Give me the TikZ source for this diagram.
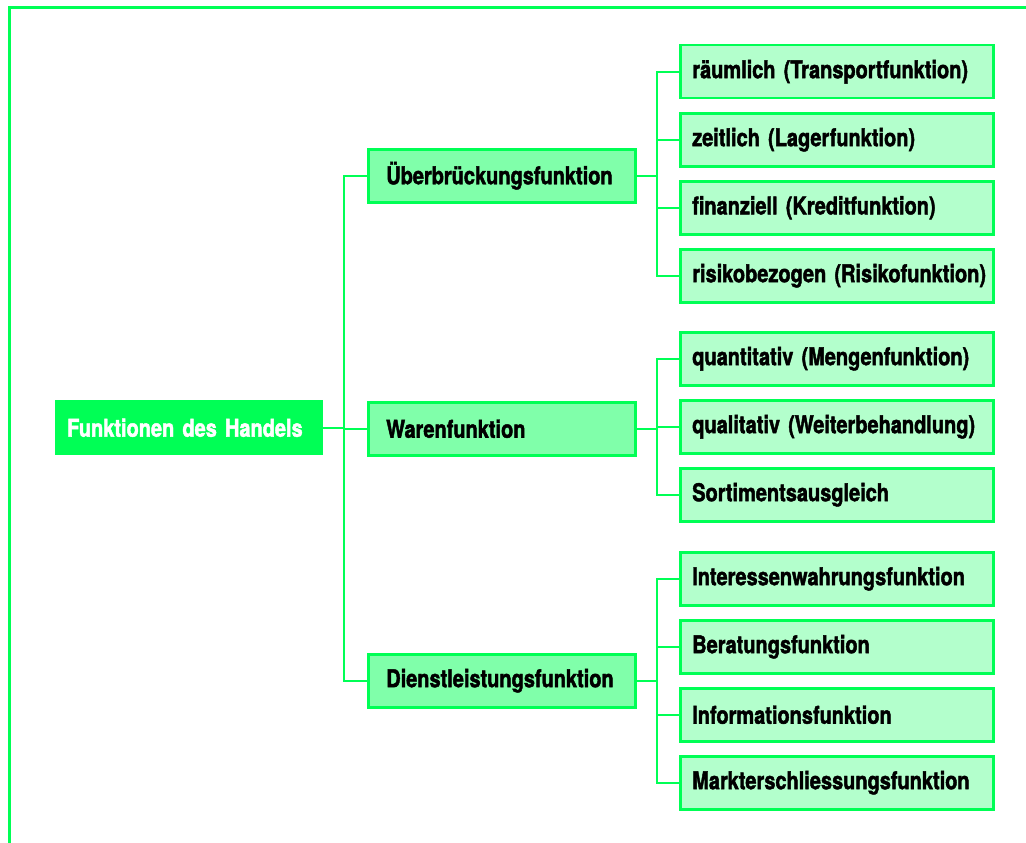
\documentclass[tikz,border=0pt]{standalone}
\usepackage{fontspec}
\newfontfamily\boxfont{TeX Gyre Heros}[FakeStretch=0.815, BoldFeatures={FakeBold=1.8}]
\definecolor{linegreen}{HTML}{00FF55}
\definecolor{midgreen}{HTML}{80FFAA}
\definecolor{lightgreen}{HTML}{B3FFCC}
\tikzset{
  conn/.style={draw=linegreen, line width=2pt},
  boxtext/.style={font=\boxfont\bfseries\fontsize{24.5}{28}\selectfont,
    execute at begin node=\hbox\bgroup, execute at end node=\egroup},
  rootbox/.style={rectangle, fill=linegreen, anchor=north west,
    minimum width=268pt, minimum height=55pt, text width=244pt,
    inner xsep=12pt, align=left, text=white, boxtext},
  midbox/.style={rectangle, draw=linegreen, line width=2.5pt, fill=midgreen,
    anchor=north west, minimum width=267pt, minimum height=53pt,
    text width=231pt, inner xsep=18pt, align=left, boxtext},
  leafbox/.style={rectangle, draw=linegreen, line width=2.5pt, fill=lightgreen,
    anchor=north west, minimum width=313pt, minimum height=53pt,
    text width=289pt, inner xsep=12pt, align=left, boxtext},
}
\hfuzz=50pt
\begin{document}
\begin{tikzpicture}[x=1pt, y=-1pt]
  \useasboundingbox (0,0) rectangle (1026,843);
  % outer frame (top and left edges)
  \draw[linegreen, line width=3pt] (9.5,843) -- (9.5,7.5) -- (1026,7.5);

  % root
  \node[rootbox] (root) at (55,400) {Funktionen des Handels};

  % second level
  \node[midbox] (ub) at (367,148) {Überbrückungsfunktion};
  \node[midbox] (wf) at (367,401) {Warenfunktion};
  \node[midbox] (dl) at (367,653) {Dienstleistungsfunktion};

  % leaves of Überbrückungsfunktion
  \node[leafbox] (u1) at (679,44)  {räumlich (Transportfunktion)};
  \node[leafbox] (u2) at (679,112) {zeitlich (Lagerfunktion)};
  \node[leafbox] (u3) at (679,180) {finanziell (Kreditfunktion)};
  \node[leafbox] (u4) at (679,248) {risikobezogen (Risikofunktion)};

  % leaves of Warenfunktion
  \node[leafbox] (w1) at (679,331) {quantitativ (Mengenfunktion)};
  \node[leafbox] (w2) at (679,399) {qualitativ (Weiterbehandlung)};
  \node[leafbox] (w3) at (679,467) {Sortimentsausgleich};

  % leaves of Dienstleistungsfunktion
  \node[leafbox] (d1) at (679,551) {Interessenwahrungsfunktion};
  \node[leafbox] (d2) at (679,619) {Beratungsfunktion};
  \node[leafbox] (d3) at (679,687) {Informationsfunktion};
  \node[leafbox] (d4) at (679,755) {Markterschliessungsfunktion};

  % trunk x positions
  \coordinate (t1) at (344,0);
  \coordinate (t2) at (657,0);

  % root to second level
  \draw[conn] (root.east) -- (t1 |- root.east);
  \draw[conn] (ub.west) -- (t1 |- ub.west) -- (t1 |- dl.west) -- (dl.west);
  \draw[conn] (t1 |- wf.west) -- (wf.west);

  % Überbrückungsfunktion to leaves
  \draw[conn] (ub.east) -- (t2 |- ub.east);
  \draw[conn] (u1.west) -- (t2 |- u1.west) -- (t2 |- u4.west) -- (u4.west);
  \draw[conn] (t2 |- u2.west) -- (u2.west);
  \draw[conn] (t2 |- u3.west) -- (u3.west);

  % Warenfunktion to leaves
  \draw[conn] (wf.east) -- (t2 |- wf.east);
  \draw[conn] (w1.west) -- (t2 |- w1.west) -- (t2 |- w3.west) -- (w3.west);
  \draw[conn] (t2 |- w2.west) -- (w2.west);

  % Dienstleistungsfunktion to leaves
  \draw[conn] (dl.east) -- (t2 |- dl.east);
  \draw[conn] (d1.west) -- (t2 |- d1.west) -- (t2 |- d4.west) -- (d4.west);
  \draw[conn] (t2 |- d2.west) -- (d2.west);
  \draw[conn] (t2 |- d3.west) -- (d3.west);
\end{tikzpicture}
\end{document}
